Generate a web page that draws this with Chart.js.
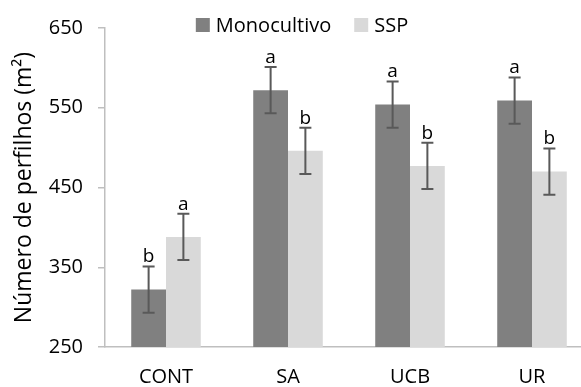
<!DOCTYPE html>
<html>
<head>
<meta charset="utf-8">
<script src="https://cdn.jsdelivr.net/npm/chart.js@4"></script>
<style>
html,body{margin:0;padding:0;background:#fff;overflow:hidden;width:581px;height:387px;}
#wrap{position:absolute;left:0;top:0;width:600px;height:387px;}
</style>
</head>
<body>
<div id="wrap"><canvas id="c" width="600" height="387"></canvas></div>
<script>
const categories = ["CONT", "SA", "UCB", "UR"];
const seriesNames = ["Monocultivo", "SSP"];
const monoValues = [322, 572, 554, 559];
const sspValues = [388, 496, 477, 470];
const monoErrors = [29, 29, 29, 29];
const sspErrors = [29, 29, 29, 29];
const monoLetters = ["b", "a", "a", "a"];
const sspLetters = ["a", "b", "b", "b"];
const yTicks = [250, 350, 450, 550, 650];
const yTitle = "Número de perfilhos (m²)";

const FONT = "'Open Sans', sans-serif";

const errorPlugin = {
  id: 'errorBars',
  afterDatasetsDraw(chart) {
    const ctx = chart.ctx;
    const ys = chart.scales.y;
    chart.data.datasets.forEach((ds, di) => {
      const meta = chart.getDatasetMeta(di);
      meta.data.forEach((bar, i) => {
        const v = ds.data[i], e = ds.errors[i];
        const yt = ys.getPixelForValue(v + e);
        const yb = ys.getPixelForValue(v - e);
        const x = bar.x;
        ctx.save();
        ctx.strokeStyle = '#595959';
        ctx.lineWidth = 2;
        ctx.beginPath();
        ctx.moveTo(x, yt); ctx.lineTo(x, yb);
        ctx.moveTo(x - 6, yt); ctx.lineTo(x + 6, yt);
        ctx.moveTo(x - 6, yb); ctx.lineTo(x + 6, yb);
        ctx.stroke();
        ctx.fillStyle = '#000';
        ctx.font = "19px " + FONT;
        ctx.textAlign = 'center';
        ctx.textBaseline = 'alphabetic';
        ctx.fillText(ds.letters[i], x, yt - 4);
        ctx.restore();
      });
    });
  }
};

const legendPlugin = {
  id: 'customLegend',
  afterDraw(chart) {
    const ctx = chart.ctx;
    ctx.save();
    ctx.font = "20px " + FONT;
    ctx.textBaseline = 'middle';
    const box = 14, gap = 6, between = 23;
    const items = chart.data.datasets.map(d => ({label: d.label, color: d.backgroundColor, w: ctx.measureText(d.label).width}));
    let total = 0;
    items.forEach((it, i) => { total += box + gap + it.w + (i < items.length - 1 ? between : 0); });
    let x = 302 - total / 2;
    const cy = 25;
    items.forEach(it => {
      ctx.fillStyle = it.color;
      ctx.fillRect(x, cy - box / 2, box, box);
      x += box + gap;
      ctx.fillStyle = '#000';
      ctx.textAlign = 'left';
      ctx.fillText(it.label, x, cy + 1);
      x += it.w + between;
    });
    ctx.restore();
  }
};

new Chart(document.getElementById('c'), {
  type: 'bar',
  data: {
    labels: categories,
    datasets: [
      {label: seriesNames[0], data: monoValues, errors: monoErrors, letters: monoLetters, backgroundColor: '#808080', barPercentage: 1, categoryPercentage: 0.57},
      {label: seriesNames[1], data: sspValues, errors: sspErrors, letters: sspLetters, backgroundColor: '#d9d9d9', barPercentage: 1, categoryPercentage: 0.57}
    ]
  },
  options: {
    responsive: false,
    animation: false,
    devicePixelRatio: 1,
    layout: {padding: {top: 28, right: 7, left: 0, bottom: 0}},
    plugins: {legend: {display: false}, tooltip: {enabled: false}},
    scales: {
      x: {
        grid: {display: false, drawTicks: false},
        border: {display: true, color: '#bfbfbf', width: 1.5},
        ticks: {color: '#000', font: {family: FONT, size: 20}, padding: 18},
        afterFit(s) { s.height = 40; }
      },
      y: {
        min: 250, max: 650,
        afterBuildTicks(s) { s.ticks = yTicks.map(v => ({value: v})); },
        grid: {drawOnChartArea: false, drawTicks: true, tickLength: 7, color: '#bfbfbf', lineWidth: 1.5},
        border: {display: true, color: '#bfbfbf', width: 1.5},
        ticks: {color: '#000', font: {family: FONT, size: 20}, padding: 15},
        title: {display: true, text: yTitle, color: '#000', font: {family: FONT, size: 23}, padding: {top: 11, bottom: 0}},
        afterFit(s) { s.width = 105; }
      }
    }
  },
  plugins: [errorPlugin, legendPlugin]
});
</script>
</body>
</html>
